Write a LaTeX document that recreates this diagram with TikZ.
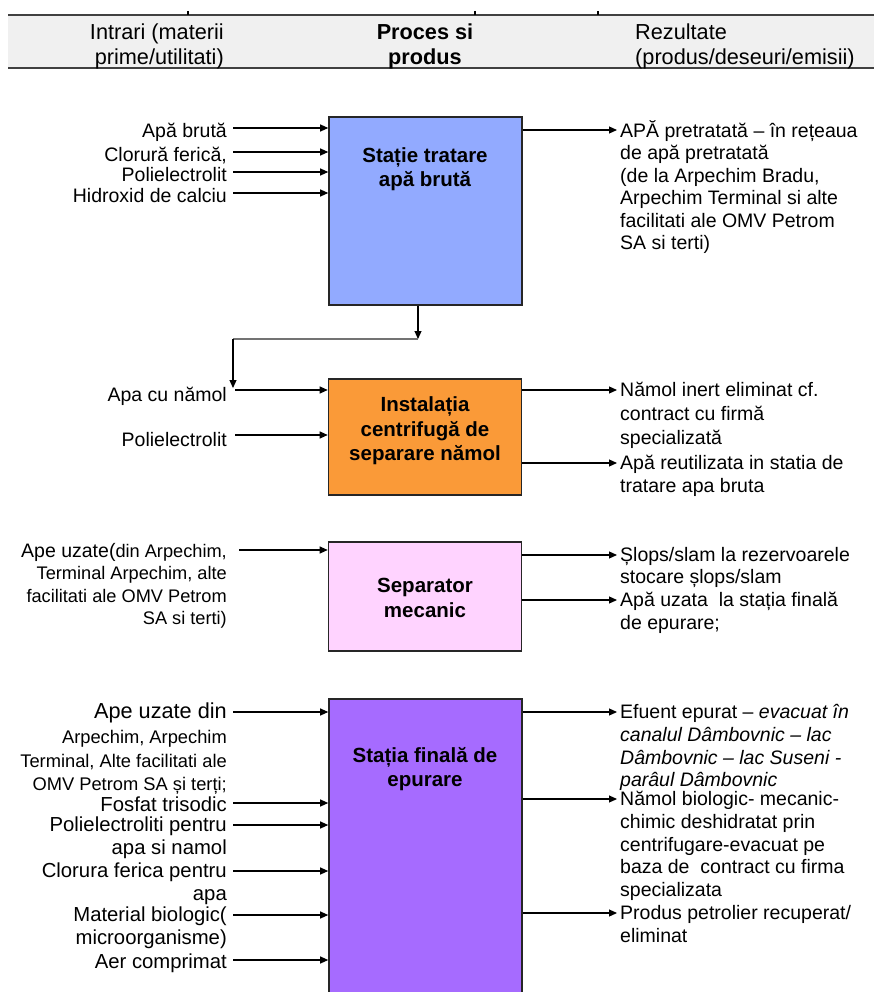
\documentclass[tikz,border=0pt]{standalone}
\usepackage{fontspec}
\setmainfont{Liberation Sans}
\usetikzlibrary{arrows.meta}

\definecolor{hdgrey}{RGB}{240,240,240}
\definecolor{boxblue}{RGB}{146,170,255}
\definecolor{boxorange}{RGB}{250,154,56}
\definecolor{boxpink}{RGB}{255,211,255}
\definecolor{boxviolet}{RGB}{166,107,255}

\newcommand{\txtf}{\fontsize{19.5}{22.5}\selectfont}
\newcommand{\hdf}{\fontsize{21.7}{25}\selectfont}
\newcommand{\boxf}{\bfseries\fontsize{20.5}{24.5}\selectfont}
\newcommand{\bigf}{\fontsize{21.7}{24.5}\selectfont}
\newcommand{\smallf}{\fontsize{18.2}{22.5}\selectfont}
\newcommand{\sidef}{\fontsize{20.3}{23}\selectfont}

\tikzset{
  stage/.style={draw=black!85, line width=1.6pt, minimum width=193pt, inner sep=0pt},
  stagetxt/.style={font=\boxf, align=center, inner sep=0pt},
  arr/.style={-{Triangle[length=8pt,width=7pt]}, line width=1.1pt},
  inlbl/.style={font=\txtf, align=right, anchor=north east, inner sep=0pt,
    execute at begin node={\rule{0pt}{19pt}}},
  outlbl/.style={font=\txtf, align=left, anchor=north west, inner sep=0pt,
    execute at begin node={\rule{0pt}{19pt}}},
  hdtxt/.style={font=\hdf, inner sep=0pt}
}

\begin{document}
\begin{tikzpicture}[x=1pt, y=-1pt]
\useasboundingbox (0,0) rectangle (874,992);

% table header
\fill[hdgrey] (8,15) rectangle (874,68);
\draw[line width=2pt, black!75] (8,15) -- (874,15);
\draw[line width=2.4pt, black!75] (8,68) -- (874,68);
\foreach \x in {188,475,598} \draw[line width=1.5pt] (\x,11) -- (\x,15);
\node[hdtxt, anchor=east, align=right] (h1) at (224,46.5) {Intrari (materii\\prime/utilitati)};
\node[hdtxt, font=\hdf\bfseries, align=center] (h2) at (425,46.5) {Proces si\\produs};
\node[hdtxt, anchor=west, align=left] (h3) at (635,46.5) {Rezultate\\(produs/deseuri/emisii)};

% process boxes
\node[stage, fill=boxblue, minimum height=188pt] (st1) at (425.5,211) {};
\node[stage, fill=boxorange, minimum height=116pt] (st2) at (425,437) {};
\node[stage, fill=boxpink, minimum height=109pt] (st3) at (425,596.5) {};
\node[stage, fill=boxviolet, minimum height=302pt] (st4) at (425.5,850) {};
\node[stagetxt] (st1t) at (425,169) {Stație tratare\\apă brută};
\node[stagetxt] (st2t) at (425,431) {Instalația\\centrifugă de\\separare nămol};
\node[stagetxt] (st3t) at (425,598) {Separator\\mecanic};
\node[stagetxt] (st4t) at (425,769) {Stația finală de\\epurare};

% inputs
\node[inlbl] (a1) at (227,118) {Apă brută};
\node[inlbl] (a2) at (227,142) {Clorură ferică,};
\node[inlbl] (a3) at (227,162) {Polielectrolit};
\node[inlbl] (a4) at (227,183) {Hidroxid de calciu};
\node[inlbl] (b1) at (227,382) {Apa cu nămol};
\node[inlbl] (b2) at (227,427) {Polielectrolit};
\node[inlbl] (c1) at (227,543) {Ape uzate({\smallf din Arpechim,}\\{\smallf Terminal Arpechim, alte}\\{\smallf facilitati ale OMV Petrom}\\{\smallf SA si terti)}};
\node[inlbl, font=\fontsize{18.3}{23.5}\selectfont] (d1) at (227,703) {{\bigf Ape uzate din}\\[1.5pt]Arpechim, Arpechim\\Terminal, Alte facilitati ale\\OMV Petrom SA și terți;};
\node[inlbl, font=\sidef] (d2) at (227,792) {Fosfat trisodic};
\node[inlbl, font=\sidef] (d3) at (227,817) {Polielectroliti pentru\\apa si namol};
\node[inlbl, font=\sidef] (d4) at (227,863) {Clorura ferica pentru\\apa};
\node[inlbl, font=\sidef] (d5) at (227,907) {Material biologic(\\microorganisme)};
\node[inlbl, font=\sidef] (d6) at (227,949) {Aer comprimat};

\foreach \n in {a1,a2,a3,a4}
  \draw[arr] ([shift={(6pt,-10pt)}]\n.north east) -- ([yshift=-10pt]\n.north east -| st1.west);
\foreach \n in {b1,b2}
  \draw[arr] ([shift={(8pt,-8pt)}]\n.north east) -- ([yshift=-8pt]\n.north east -| st2.west);
\draw[arr] ([shift={(12pt,-7pt)}]c1.north east) -- ([yshift=-7pt]c1.north east -| st3.west);
\draw[arr] ([shift={(6pt,-9pt)}]d1.north east) -- ([yshift=-9pt]d1.north east -| st4.west);
\foreach \n in {d2,d6}
  \draw[arr] ([shift={(6pt,-11pt)}]\n.north east) -- ([yshift=-11pt]\n.north east -| st4.west);
\foreach \n in {d3,d4,d5}
  \draw[arr] ([shift={(6pt,-8pt)}]\n.north east) -- ([yshift=-8pt]\n.north east -| st4.west);

% sludge water back to centrifuge
\coordinate (j1) at (418,339);
\coordinate (j2) at (233,339);
\draw[arr] (st1.south -| j1) -- (j1);
\draw[line width=1.1pt, black!55] (j1) -- (j2);
\draw[arr] (j2) -- ([yshift=-6pt]b1.north east -| j2);

% results
\node[outlbl] (r1) at (620,120) {APĂ pretratată – în rețeaua\\de apă pretratată\\(de la Arpechim Bradu,\\Arpechim Terminal si alte\\facilitati ale OMV Petrom\\SA si terti)};
\node[outlbl, font=\fontsize{19.5}{24}\selectfont] (s1) at (620,382) {Nămol inert eliminat cf.\\contract cu firmă\\specializată};
\node[outlbl] (s2) at (620,455) {Apă reutilizata in statia de\\tratare apa bruta};
\node[outlbl] (t1) at (620,547) {Șlops/slam la rezervoarele\\stocare șlops/slam};
\node[outlbl] (t2) at (620,592) {Apă uzata\ \ la stația finală\\de epurare;};
\node[outlbl, font=\fontsize{19.5}{22.8}\selectfont] (u1) at (620,704) {Efuent epurat – \textit{evacuat în}\\\textit{canalul Dâmbovnic – lac}\\\textit{Dâmbovnic – lac Suseni -}\\\textit{parâul Dâmbovnic}};
\node[outlbl, font=\fontsize{19.5}{22.8}\selectfont] (u2) at (620,791) {Nămol biologic- mecanic-\\chimic deshidratat prin\\centrifugare-evacuat pe\\baza de\ \ contract cu firma\\specializata};
\node[outlbl, font=\fontsize{19.5}{22.8}\selectfont] (u3) at (620,905) {Produs petrolier recuperat/\\eliminat};

\draw[arr] ([yshift=-10pt]r1.north west -| st1.east) -- ([shift={(-3pt,-10pt)}]r1.north west);
\foreach \n in {s1,s2}
  \draw[arr] ([yshift=-8pt]\n.north west -| st2.east) -- ([shift={(-3pt,-8pt)}]\n.north west);
\foreach \n in {t1,t2}
  \draw[arr] ([yshift=-8pt]\n.north west -| st3.east) -- ([shift={(-3pt,-8pt)}]\n.north west);
\foreach \n in {u1,u2,u3}
  \draw[arr] ([yshift=-8pt]\n.north west -| st4.east) -- ([shift={(-3pt,-8pt)}]\n.north west);
\end{tikzpicture}
\end{document}
